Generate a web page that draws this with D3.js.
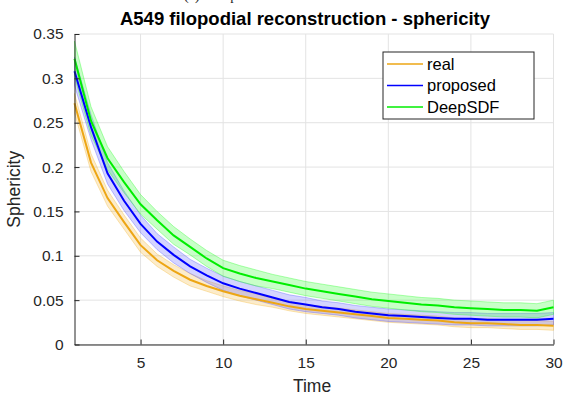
<!DOCTYPE html>
<html>
<head>
<meta charset="utf-8">
<script src="https://cdn.jsdelivr.net/npm/d3@7"></script>
<style>
  body { margin: 0; background: #fff; }
  svg { display: block; font-family: "Liberation Sans", Arial, sans-serif; }
</style>
</head>
<body>
<div id="chart"></div>
<script>
// Time steps 1..30
const timeSteps = d3.range(1, 31);

// Mean sphericity per series
const realMean = [0.272, 0.205, 0.165, 0.138, 0.112, 0.095, 0.083, 0.073, 0.066, 0.060,
  0.055, 0.051, 0.047, 0.043, 0.040, 0.038, 0.036, 0.034, 0.032, 0.030,
  0.029, 0.028, 0.027, 0.025, 0.024, 0.024, 0.023, 0.022, 0.022, 0.021];
const proposedMean = [0.308, 0.245, 0.193, 0.162, 0.136, 0.116, 0.101, 0.088, 0.078, 0.069,
  0.063, 0.058, 0.053, 0.048, 0.045, 0.042, 0.040, 0.037, 0.035, 0.033,
  0.032, 0.031, 0.030, 0.029, 0.029, 0.028, 0.028, 0.028, 0.028, 0.029];
const deepsdfMean = [0.322, 0.252, 0.210, 0.183, 0.158, 0.140, 0.123, 0.110, 0.097, 0.086,
  0.080, 0.075, 0.071, 0.067, 0.063, 0.060, 0.057, 0.054, 0.051, 0.049,
  0.047, 0.045, 0.044, 0.042, 0.041, 0.040, 0.039, 0.039, 0.038, 0.042];

// Half-width of the shaded band (std) per series
const realSpread = [0.011, 0.010, 0.009, 0.008, 0.008, 0.007, 0.007, 0.007, 0.006, 0.006,
  0.006, 0.006, 0.005, 0.005, 0.005, 0.005, 0.005, 0.005, 0.005, 0.005,
  0.005, 0.005, 0.005, 0.005, 0.005, 0.005, 0.005, 0.005, 0.005, 0.005];
const proposedSpread = [0.016, 0.014, 0.012, 0.011, 0.010, 0.009, 0.009, 0.008, 0.008, 0.008,
  0.008, 0.008, 0.008, 0.008, 0.008, 0.007, 0.007, 0.007, 0.007, 0.007,
  0.007, 0.007, 0.007, 0.007, 0.007, 0.007, 0.007, 0.007, 0.007, 0.007];
const deepsdfSpread = [0.020, 0.016, 0.013, 0.012, 0.011, 0.010, 0.010, 0.009, 0.009, 0.009,
  0.009, 0.009, 0.008, 0.008, 0.008, 0.008, 0.008, 0.008, 0.008, 0.008,
  0.008, 0.008, 0.008, 0.008, 0.008, 0.008, 0.008, 0.008, 0.008, 0.008];

const seriesNames = ["real", "proposed", "DeepSDF"];
const seriesColors = ["#eda614", "#0000ff", "#00ee00"];
const bandColors = ["#f5b530", "#5555ff", "#22ff22"];

const xTicks = [5, 10, 15, 20, 25, 30];
const yTicks = [0, 0.05, 0.1, 0.15, 0.2, 0.25, 0.3, 0.35];

const W = 565, H = 395;
const margin = { left: 74.5, right: 11.5, top: 34, bottom: 50.5 };

const svg = d3.select("#chart").append("svg")
  .attr("width", W).attr("height", H);

const x = d3.scaleLinear().domain([1, 30]).range([margin.left, W - margin.right]);
const y = d3.scaleLinear().domain([0, 0.35]).range([H - margin.bottom, margin.top]);

const textColor = "#262626";
const gridColor = "#e3e3e3";

// caption of the figure above, mostly cut off by the top edge
svg.append("text")
  .attr("x", 184).attr("y", 0)
  .attr("font-family", "'Liberation Serif', serif")
  .attr("font-size", 14)
  .attr("fill", "#222")
  .text("(c) Comparison");

// Grid
const grid = svg.append("g").attr("class", "grid");
grid.selectAll("line.gx")
  .data(xTicks)
  .join("line")
  .attr("class", "gx")
  .attr("x1", (d) => x(d)).attr("x2", (d) => x(d))
  .attr("y1", y(0)).attr("y2", y(0.35))
  .attr("stroke", gridColor).attr("stroke-width", 1);
grid.selectAll("line.gy")
  .data(yTicks)
  .join("line")
  .attr("class", "gy")
  .attr("x1", x(1)).attr("x2", x(30))
  .attr("y1", (d) => y(d)).attr("y2", (d) => y(d))
  .attr("stroke", gridColor).attr("stroke-width", 1);

const means = [realMean, proposedMean, deepsdfMean];
const spreads = [realSpread, proposedSpread, deepsdfSpread];

const series = seriesNames.map((name, i) => ({
  name,
  color: seriesColors[i],
  band: bandColors[i],
  points: timeSteps.map((t, j) => ({ t, m: means[i][j], s: spreads[i][j] })),
}));

const area = d3.area()
  .x((d) => x(d.t))
  .y0((d) => y(d.m - d.s))
  .y1((d) => y(d.m + d.s));

const line = d3.line()
  .x((d) => x(d.t))
  .y((d) => y(d.m));

// Bands (drawn first so the lines sit on top)
svg.append("g").attr("class", "bands")
  .selectAll("path")
  .data(series)
  .join("path")
  .attr("d", (d) => area(d.points))
  .attr("fill", (d) => d.band)
  .attr("fill-opacity", 0.25)
  .attr("stroke", (d) => d.band)
  .attr("stroke-opacity", 0.45)
  .attr("stroke-width", 0.8);

svg.append("g").attr("class", "lines")
  .selectAll("path")
  .data(series)
  .join("path")
  .attr("d", (d) => line(d.points))
  .attr("fill", "none")
  .attr("stroke", (d) => d.color)
  .attr("stroke-width", 2);

// Axes (ticks point inward, no box)
const xAxis = svg.append("g")
  .attr("transform", `translate(0,${y(0)})`)
  .call(d3.axisBottom(x).tickValues(xTicks).tickSizeInner(-5).tickSizeOuter(0).tickPadding(12));
const yAxis = svg.append("g")
  .attr("transform", `translate(${x(1)},0)`)
  .call(d3.axisLeft(y).tickValues(yTicks).tickSizeInner(-5).tickSizeOuter(0).tickPadding(11)
    .tickFormat((d) => d3.format("")(+d.toFixed(2))));

[xAxis, yAxis].forEach((a) => {
  a.select(".domain").attr("stroke", textColor).attr("stroke-width", 1);
  a.selectAll(".tick line").attr("stroke", textColor);
  a.selectAll(".tick text")
    .attr("fill", textColor)
    .attr("font-size", 15.5)
    .attr("font-family", "'Liberation Sans', Arial, sans-serif");
});

// Labels
svg.append("text")
  .attr("x", 305).attr("y", 25)
  .attr("text-anchor", "middle")
  .attr("font-size", 18.5)
  .attr("font-weight", "bold")
  .attr("fill", "#000")
  .text("A549 filopodial reconstruction - sphericity");

svg.append("text")
  .attr("x", 312).attr("y", 392)
  .attr("text-anchor", "middle")
  .attr("font-size", 17.5)
  .attr("fill", textColor)
  .text("Time");

svg.append("text")
  .attr("transform", `translate(20,${(margin.top + H - margin.bottom) / 2}) rotate(-90)`)
  .attr("text-anchor", "middle")
  .attr("font-size", 17.5)
  .attr("fill", textColor)
  .text("Sphericity");

// Legend
const legend = svg.append("g").attr("transform", "translate(383,52)");
legend.append("rect")
  .attr("width", 151).attr("height", 67)
  .attr("fill", "#fff")
  .attr("stroke", "#262626").attr("stroke-width", 1);
const legendRow = legend.selectAll("g.row")
  .data(series)
  .join("g")
  .attr("class", "row")
  .attr("transform", (d, i) => `translate(0,${12 + i * 21.5})`);
legendRow.append("line")
  .attr("x1", 4).attr("x2", 40)
  .attr("stroke", (d) => d.color).attr("stroke-width", 1.5);
legendRow.append("text")
  .attr("x", 44).attr("dy", "0.35em")
  .attr("font-size", 16.5)
  .attr("fill", "#000")
  .text((d) => d.name);
</script>
</body>
</html>
